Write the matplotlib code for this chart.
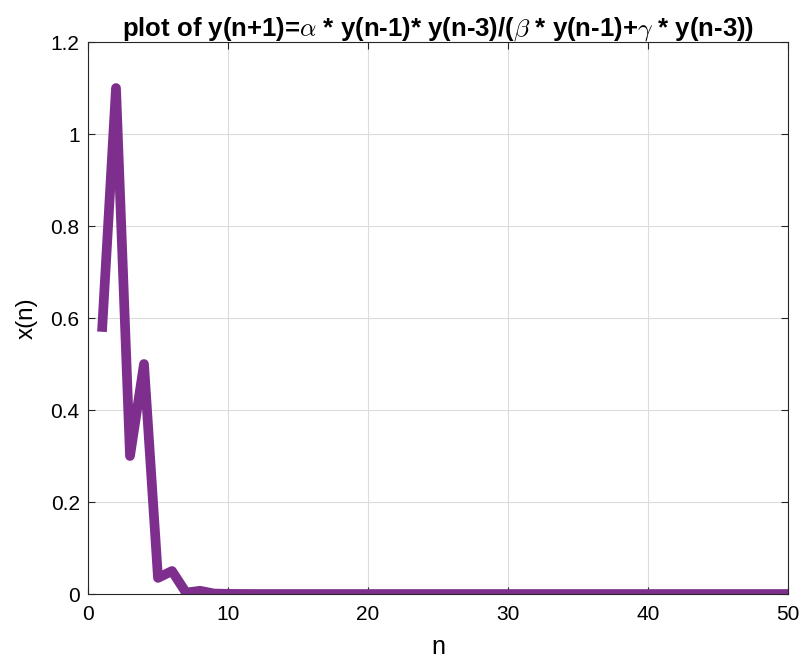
import numpy as np
import matplotlib
matplotlib.use("Agg")
import matplotlib.pyplot as plt
from matplotlib import font_manager

# police proche de celle de MATLAB (Helvetica étroite)
noms = {f.name for f in font_manager.fontManager.ttflist}
police = "Liberation Sans Narrow" if "Liberation Sans Narrow" in noms else "Liberation Sans"
plt.rcParams["font.family"] = [police, "DejaVu Sans"]
plt.rcParams["mathtext.fontset"] = "cm"

# valeurs
n = list(range(1, 51))
x_n = [0.57, 1.1, 0.3, 0.5, 0.035, 0.05, 0.003, 0.007, 0.001, 0.0003,
       0.0001, 0.0, 0.0, 0.0, 0.0, 0.0, 0.0, 0.0, 0.0, 0.0,
       0.0, 0.0, 0.0, 0.0, 0.0, 0.0, 0.0, 0.0, 0.0, 0.0,
       0.0, 0.0, 0.0, 0.0, 0.0, 0.0, 0.0, 0.0, 0.0, 0.0,
       0.0, 0.0, 0.0, 0.0, 0.0, 0.0, 0.0, 0.0, 0.0, 0.0]
xticks = [0, 10, 20, 30, 40, 50]
yticks = [0, 0.2, 0.4, 0.6, 0.8, 1, 1.2]
ytick_labels = ["0", "0.2", "0.4", "0.6", "0.8", "1", "1.2"]

fig = plt.figure(figsize=(8.07, 6.6), dpi=100)
ax = fig.add_axes([88 / 807, 1 - 594 / 660, 700 / 807, 552 / 660])

ax.plot(n, x_n, color="#7E2F8E", linewidth=7, solid_joinstyle="round",
        solid_capstyle="butt")

ax.set_xlim(0, 50)
ax.set_ylim(0, 1.2)
ax.set_xticks(xticks)
ax.set_yticks(yticks)
ax.set_yticklabels(ytick_labels)
ax.grid(True, color="#dcdcdc", linewidth=0.8)
ax.set_axisbelow(True)
for s in ax.spines.values():
    s.set_color("#262626")
    s.set_linewidth(0.8)
ax.tick_params(direction="in", length=5, width=0.8, colors="#262626",
               labelsize=15, top=True, right=True, pad=6)
ax.tick_params(axis="x", pad=8)
for lab in ax.get_xticklabels() + ax.get_yticklabels():
    lab.set_color("black")

ax.set_xlabel("n", fontsize=18, labelpad=8)
ax.set_ylabel("x(n)", fontsize=17.5, labelpad=9)
ax.set_title(r"plot of y(n+1)=$\alpha$ * y(n-1)* y(n-3)/($\beta$ * y(n-1)+$\gamma$ * y(n-3))",
             fontsize=18.5, fontweight="bold", pad=5)

fig.savefig("out.png", dpi=100)
